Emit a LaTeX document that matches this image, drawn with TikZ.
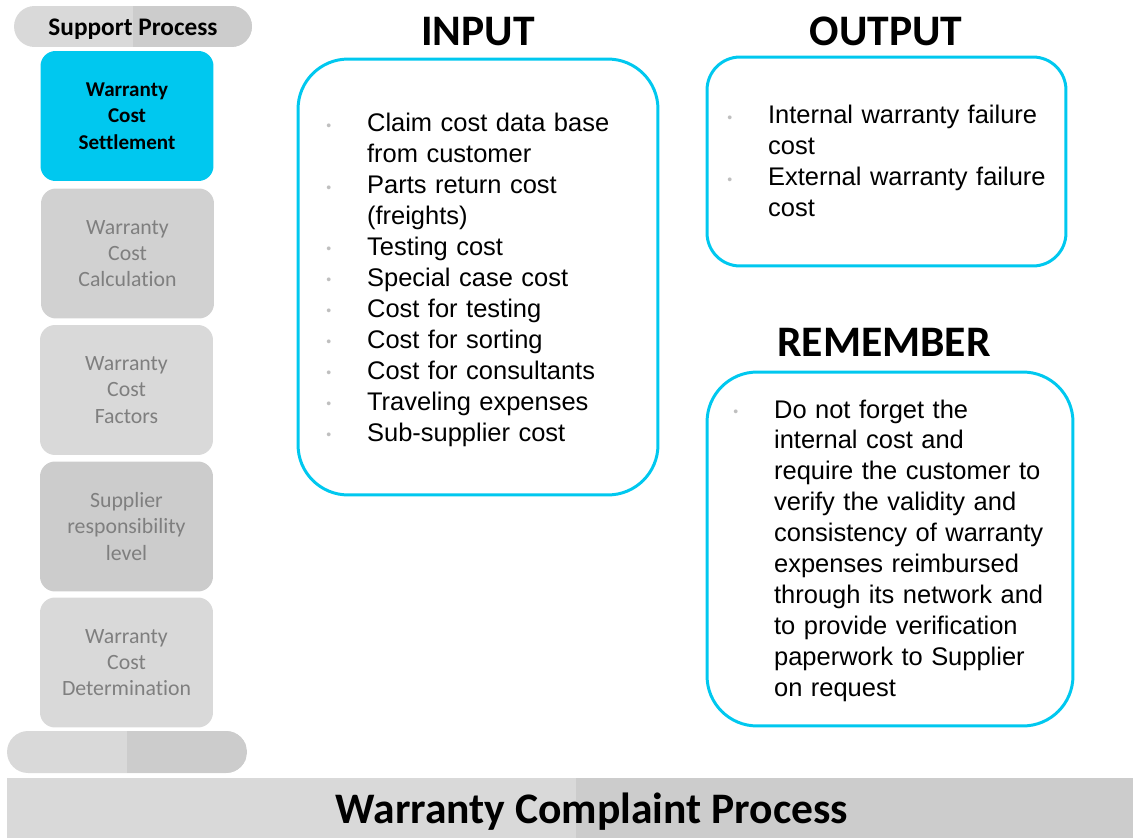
\documentclass[tikz,border=0pt]{standalone}
\usepackage{fontspec}
\setmainfont{Carlito}[Ligatures=CommonOff]
\newfontfamily\listfont{Liberation Sans}
\definecolor{cyanbox}{HTML}{00C8EF}
\definecolor{greytext}{HTML}{7F7F7F}
\definecolor{dotgrey}{HTML}{BFBFBF}
\definecolor{paleA}{HTML}{D9D9D9}
\definecolor{paleB}{HTML}{CCCCCC}
\newcommand{\bpoint}{\noindent\hangindent=23.2pt\hangafter=1%
  \makebox[23.2pt][l]{\raisebox{1pt}{\textcolor{dotgrey}{\fontsize{8}{8}\selectfont\textbullet}}}}
\tikzset{
	pill/.style={fill=paleA,rounded corners=#1,inner sep=0pt,
		path picture={\fill[paleB,sharp corners] (path picture bounding box.north) rectangle (path picture bounding box.south east);}},
	stage/.style={rounded corners=0.3cm,minimum width=3.46cm,minimum height=2.6cm,align=center,inner sep=0pt,
		font=\fontsize{12.4}{15}\selectfont,text=greytext},
	frame/.style={draw=cyanbox,line width=1.7pt,inner sep=0pt},
	heading/.style={anchor=base,inner sep=0pt,font=\bfseries\fontsize{24.8}{28}\selectfont},
	listbox/.style={anchor=base west,inner sep=0pt,align=left,text width=7cm,
		font=\listfont\fontsize{14.5}{17.6}\selectfont}
}
\begin{document}
\begin{tikzpicture}[x=0.02cm,y=-0.02cm]
	\useasboundingbox (0,0) rectangle (1133,838);

	% left column of stages
	\node [pill=0.41cm,minimum width=4.76cm,minimum height=0.82cm] (support) at (133,26.5) {};
	\node [heading,font=\bfseries\fontsize{14.4}{16}\selectfont] (supporttext) at (133,36) {Support Process};
	\node [stage,fill=cyanbox,text=black,font=\bfseries\fontsize{12}{15}\selectfont] (settle) at (127,116) {Warranty\\Cost\\Settlement};
	\node [stage,fill=black!18] (calc) at (127.5,253.5) {Warranty\\Cost\\Calculation};
	\node [stage,fill=black!15] (factors) at (126.5,390) {Warranty\\Cost\\Factors};
	\node [stage,fill=black!20] (resp) at (126.5,526.5) {Supplier\\responsibility\\level};
	\node [stage,fill=black!15] (determ) at (126.5,662.5) {Warranty\\Cost\\Determination};
	\node [pill=0.42cm,minimum width=4.8cm,minimum height=0.84cm] (footpill) at (127,752) {};

	% bottom bar
	\fill[paleA] (7,778) rectangle (576,838);
	\fill[paleB] (576,778) rectangle (1133,838);
	\node [heading] (process) at (592,823) {Warranty Complaint Process};

	% input
	\node [heading] (inhead) at (478,46) {INPUT};
	\node [frame,rounded corners=1cm,minimum width=7.2cm,minimum height=8.72cm] (inbox) at (478,277) {};
	\node [listbox] (inlist) at (326,132) {\bpoint Claim cost data base\newline from customer\par
		\bpoint Parts return cost\newline (freights)\par
		\bpoint Testing cost\par
		\bpoint Special case cost\par
		\bpoint Cost for testing\par
		\bpoint Cost for sorting\par
		\bpoint Cost for consultants\par
		\bpoint Traveling expenses\par
		\bpoint Sub-supplier cost\par};

	% output
	\node [heading] (outhead) at (886,46) {OUTPUT};
	\node [frame,rounded corners=0.66cm,minimum width=7.18cm,minimum height=4.18cm] (outbox) at (886.5,161.5) {};
	\node [listbox] (outlist) at (727,124) {\bpoint Internal warranty failure\newline cost\par
		\bpoint External warranty failure\newline cost\par};

	% remember
	\node [heading] (remhead) at (884,356) {REMEMBER};
	\node [frame,rounded corners=1cm,minimum width=7.32cm,minimum height=7.08cm] (rembox) at (890,549) {};
	\node [listbox] (remlist) at (733,418) {\bpoint Do not forget the\newline internal cost and\newline require the customer to\newline
		verify the validity and\newline consistency of warranty\newline expenses reimbursed\newline
		through its network and\newline to provide verification\newline paperwork to Supplier\newline on request\par};
\end{tikzpicture}
\end{document}
